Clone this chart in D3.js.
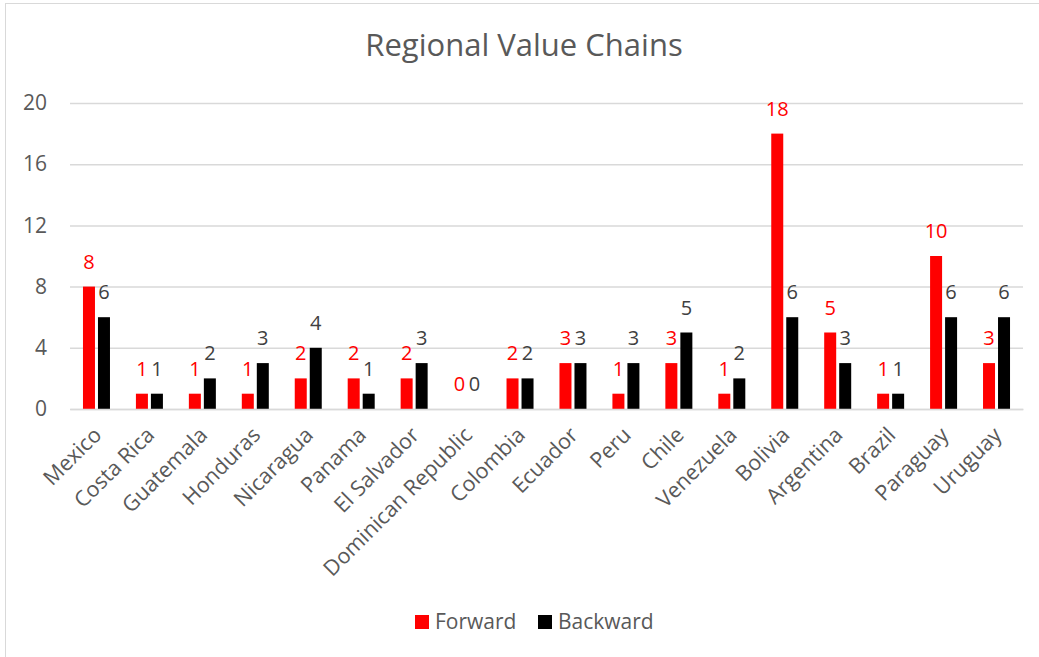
<!DOCTYPE html>
<html>
<head>
<meta charset="utf-8">
<script src="https://cdn.jsdelivr.net/npm/d3@7"></script>
<style>
  html, body { margin: 0; padding: 0; background: #fff; }
  svg { display: block; }
  text { font-family: "Open Sans", "Noto Sans", sans-serif; }
</style>
</head>
<body>
<svg id="chart" width="1039" height="657"></svg>
<script>
const categories = ["Mexico","Costa Rica","Guatemala","Honduras","Nicaragua","Panama","El Salvador","Dominican Republic","Colombia","Ecuador","Peru","Chile","Venezuela","Bolivia","Argentina","Brazil","Paraguay","Uruguay"];
const forward  = [8,1,1,1,2,2,2,0,2,3,1,3,1,18,5,1,10,3];
const backward = [6,1,2,3,4,1,3,0,2,3,3,5,2,6,3,1,6,6];
const seriesNames = ["Forward","Backward"];
const seriesColors = ["#ff0000","#000000"];
const labelColors = ["#ff0000","#404040"];
const yTicks = [0,4,8,12,16,20];
const title = "Regional Value Chains";

const svg = d3.select("#chart");

// frame
svg.append("rect").attr("x",5.5).attr("y",3.5).attr("width",1040).attr("height",660)
  .attr("fill","#fff").attr("stroke","#d9d9d9").attr("stroke-width",1);

const x0 = d3.scaleBand().domain(categories).range([70, 1023]).paddingInner(0).paddingOuter(0);
const x1 = d3.scaleBand().domain(seriesNames).range([0, 27]).paddingInner(0.2).paddingOuter(0);
const y = d3.scaleLinear().domain([0,20]).range([409, 103]);

// gridlines
const yAxis = d3.axisLeft(y).tickValues(yTicks).tickSize(-(1023-70)).tickPadding(23);
const gy = svg.append("g").attr("transform","translate(70,0)").call(yAxis);
gy.select(".domain").remove();
gy.selectAll(".tick line").attr("stroke","#d9d9d9").attr("stroke-width",1.5);
gy.selectAll(".tick text").attr("fill","#595959").style("font-size","21px");

// bars
const data = categories.map((c,i) => ({c, vals: [forward[i], backward[i]]}));
const groups = svg.append("g").selectAll("g").data(data).join("g")
  .attr("transform", d => `translate(${x0(d.c) + x0.bandwidth()/2 - 13.5},0)`);
groups.selectAll("rect").data(d => d.vals.map((v,k)=>({k,v}))).join("rect")
  .attr("x", d => x1(seriesNames[d.k]))
  .attr("width", x1.bandwidth())
  .attr("y", d => y(d.v))
  .attr("height", d => y(0) - y(d.v))
  .attr("fill", d => seriesColors[d.k]);
groups.selectAll("text").data(d => d.vals.map((v,k)=>({k,v}))).join("text")
  .attr("x", d => x1(seriesNames[d.k]) + x1.bandwidth()/2)
  .attr("y", d => y(d.v) - 18)
  .attr("text-anchor","middle")
  .attr("fill", d => labelColors[d.k])
  .style("font-size","20px")
  .text(d => d.v);

// x axis labels
const xAxis = d3.axisBottom(x0).tickSize(0).tickPadding(0);
const gx = svg.append("g").attr("transform","translate(0,409)").call(xAxis);
gx.select(".domain").attr("stroke","#d9d9d9").attr("stroke-width",1.5);
gx.selectAll(".tick text")
  .attr("fill","#595959").style("font-size","21.5px")
  .attr("text-anchor","end")
  .attr("dy","0.35em")
  .attr("transform","translate(1,22) rotate(-45)");

// title
svg.append("text").attr("x", 524).attr("y", 56).attr("text-anchor","middle")
  .attr("fill","#595959").style("font-size","31px").text(title);

// legend
const legend = svg.append("g");
const legendX = [415, 538];
seriesNames.forEach((s,i) => {
  legend.append("rect").attr("x", legendX[i]).attr("y", 615).attr("width",14).attr("height",14).attr("fill", seriesColors[i]);
  legend.append("text").attr("x", legendX[i]+20).attr("y", 629).attr("fill","#595959")
    .style("font-size","21px").text(s);
});
</script>
</body>
</html>
